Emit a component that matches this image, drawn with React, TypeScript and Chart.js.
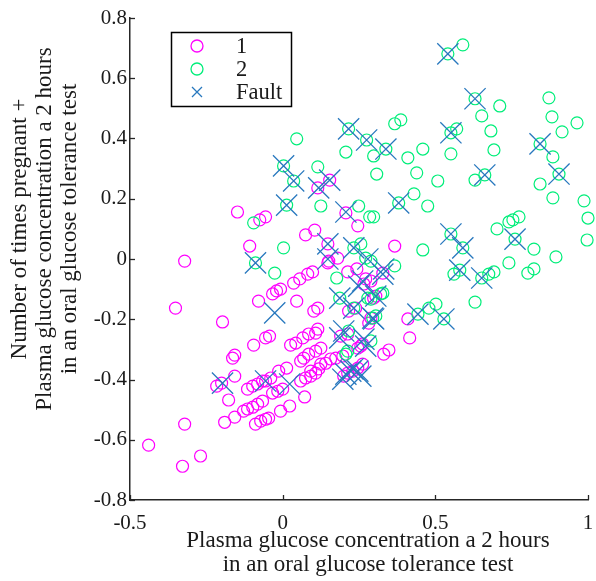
import React, { useEffect, useRef } from 'react';
import { Chart, registerables } from 'chart.js';

Chart.register(...registerables);

const seriesNames = ['1', '2', 'Fault'];
const xTickValues = [-0.5, 0, 0.5, 1];
const xTickLabels = ['-0.5', '0', '0.5', '1'];
const yTickValues = [-0.8, -0.6, -0.4, -0.2, 0, 0.2, 0.4, 0.6, 0.8];
const yTickLabels = ['-0.8', '-0.6', '-0.4', '-0.2', '0', '0.2', '0.4', '0.6', '0.8'];
const xTitleLines = ['Plasma glucose concentration a 2 hours', 'in an oral glucose tolerance test'];
const yTitleLines = [
  'Number of times pregnant +',
  'Plasma glucose concentration a 2 hours',
  'in an oral glucose tolerance test',
];

const class1: [number, number][] = [
  [-0.439, -0.618], [-0.328, -0.688], [-0.269, -0.654], [-0.321, -0.548], [-0.321, -0.007], [-0.351, -0.163], [-0.197, -0.209],
  [-0.148, 0.156], [-0.075, 0.130], [-0.056, 0.140], [0.075, 0.080], [0.105, 0.096], [-0.108, 0.043], [0.246, 0.110],
  [-0.079, -0.140], [-0.033, -0.116], [-0.020, -0.106], [-0.007, -0.100], [0.036, -0.080], [0.056, -0.066], [0.082, -0.050], [0.098, -0.043],
  [0.046, -0.140], [0.102, -0.173], [0.115, -0.163], [0.148, -0.013], [0.180, 0.003], [0.213, -0.043], [0.266, -0.083], [0.216, -0.173],
  [-0.095, -0.286], [-0.056, -0.262], [-0.043, -0.256], [-0.164, -0.329], [-0.157, -0.319], [-0.157, -0.389], [-0.216, -0.422], [-0.200, -0.412],
  [-0.177, -0.468], [-0.190, -0.542], [-0.157, -0.525],
  [-0.115, -0.432], [-0.098, -0.422], [-0.082, -0.415], [-0.066, -0.405], [-0.056, -0.405], [-0.039, -0.395], [-0.013, -0.372], [0.013, -0.362],
  [0.026, -0.286], [0.043, -0.279], [0.066, -0.262], [0.085, -0.249], [0.108, -0.246], [0.115, -0.233],
  [0.059, -0.339], [0.069, -0.329], [0.085, -0.316], [0.108, -0.306], [0.125, -0.296],
  [-0.033, -0.445], [-0.016, -0.439], [0.000, -0.432], [0.059, -0.405], [0.075, -0.395], [0.092, -0.389], [0.108, -0.379], [0.118, -0.365],
  [0.125, -0.349], [0.141, -0.346], [0.157, -0.332], [0.174, -0.329], [0.190, -0.256], [0.213, -0.249],
  [0.072, -0.458], [-0.128, -0.505], [-0.115, -0.498], [-0.098, -0.492], [-0.082, -0.482], [-0.066, -0.472],
  [-0.089, -0.548], [-0.072, -0.538], [-0.056, -0.532], [-0.046, -0.528], [-0.007, -0.505], [0.023, -0.488],
  [0.200, -0.389], [0.213, -0.379], [0.230, -0.372], [0.246, -0.362], [0.262, -0.349], [0.262, -0.282], [0.246, -0.296], [0.197, -0.322],
  [0.207, 0.153], [0.115, 0.236], [0.154, 0.262], [0.148, 0.050], [0.151, -0.007], [0.243, -0.033], [0.328, -0.047], [0.289, -0.073],
  [0.272, -0.066], [0.298, -0.130], [0.239, -0.163], [0.289, -0.196], [0.282, -0.213],
  [0.367, 0.043], [0.410, -0.199], [0.416, -0.262], [0.331, -0.316], [0.348, -0.302], [0.256, -0.289], [0.305, -0.123], [0.092, -0.372],
];

const class2: [number, number][] = [
  [-0.095, 0.120], [0.046, 0.399], [0.207, 0.355], [0.216, 0.432], [0.275, 0.395], [0.003, 0.309], [0.115, 0.306], [0.036, 0.259],
  [0.013, 0.179], [0.125, 0.176], [0.249, 0.176], [0.285, 0.140], [0.003, 0.037], [0.233, 0.037], [0.256, 0.050], [-0.089, -0.013],
  [-0.026, -0.047], [0.177, -0.063], [0.187, -0.130], [0.233, -0.163], [0.213, -0.306], [0.216, -0.239], [0.279, -0.130], [0.298, 0.342],
  [0.308, 0.282], [0.410, 0.336], [0.439, 0.286], [0.430, 0.216], [0.475, 0.176], [0.298, 0.140],
  [0.541, 0.681], [0.590, 0.711], [0.630, 0.532], [0.711, 0.508], [0.652, 0.475], [0.872, 0.535], [0.882, 0.472], [0.964, 0.452],
  [0.915, 0.422], [0.682, 0.425], [0.692, 0.362], [0.551, 0.419], [0.570, 0.432], [0.551, 0.349], [0.367, 0.449], [0.387, 0.462],
  [0.338, 0.365], [0.459, 0.365], [0.508, 0.259], [0.843, 0.382], [0.885, 0.339], [0.662, 0.279], [0.630, 0.262], [0.843, 0.249],
  [0.905, 0.282], [0.885, 0.203], [0.987, 0.193], [1.000, 0.136], [0.997, 0.063], [0.380, 0.186],
  [0.590, 0.037], [0.551, 0.083], [0.702, 0.100], [0.741, 0.123], [0.754, 0.130], [0.774, 0.140], [0.761, 0.066], [0.823, 0.033],
  [0.895, 0.007], [0.459, 0.030], [0.741, -0.013], [0.803, -0.047], [0.823, -0.033], [0.580, -0.037], [0.561, -0.050], [0.652, -0.063],
  [0.675, -0.050], [0.692, -0.043], [0.630, -0.143], [0.367, -0.023], [0.443, -0.183], [0.479, -0.163], [0.502, -0.150], [0.528, -0.199],
  [0.295, -0.196], [0.289, -0.272], [0.207, -0.316], [0.272, 0.003], [0.289, -0.007], [0.321, -0.116], [0.289, -0.133], [0.305, -0.189],
  [0.328, -0.113],
];

const fault: [number, number][] = [
  [-0.197, -0.412], [-0.089, -0.013], [-0.056, -0.405], [0.023, -0.415], [-0.026, -0.179], [0.003, 0.309], [0.036, 0.259], [0.013, 0.179],
  [0.118, 0.236], [0.154, 0.262], [0.207, 0.156], [0.148, 0.050], [0.233, 0.037], [0.216, 0.432], [0.275, 0.395], [0.338, 0.365],
  [0.380, 0.186], [0.541, 0.681], [0.630, 0.532], [0.551, 0.419], [0.843, 0.382], [0.662, 0.279], [0.905, 0.282], [0.551, 0.083],
  [0.590, 0.037], [0.761, 0.066], [0.580, -0.037], [0.652, -0.063], [0.443, -0.183], [0.528, -0.199], [0.295, -0.196], [0.148, 0.000],
  [0.279, 0.000], [0.331, -0.033], [0.262, -0.073], [0.249, -0.090], [0.187, -0.130], [0.233, -0.163], [0.298, -0.199], [0.200, -0.239],
  [0.272, -0.289], [0.223, -0.372], [0.207, -0.382], [0.197, -0.399], [0.246, -0.372], [0.187, -0.262], [0.266, -0.266], [0.305, -0.123],
  [0.328, -0.050], [0.256, -0.389], [0.230, -0.365],
];

const COLOR1 = '#FF00FF';
const COLOR2 = '#00EE7A';
const COLORF = '#2878BE';
const AXIS_COLOR = '#262626';
const TEXT_COLOR = '#1a1a1a';
const FONT_FAMILY = "'Liberation Serif', 'Times New Roman', serif";
const TICK_FONT_SIZE = 21;
const TITLE_FONT_SIZE = 23;
const LEGEND_FONT_SIZE = 22.5;

const toPoints = (arr: [number, number][]) => arr.map(([x, y]) => ({ x, y }));

const overlayPlugin = {
  id: 'overlay',
  afterDraw(chart: any) {
    const { ctx, chartArea, scales } = chart;
    const xs = scales.x;
    const ys = scales.y;
    ctx.save();
    // inward tick marks
    ctx.strokeStyle = AXIS_COLOR;
    ctx.lineWidth = 1.3;
    yTickValues.forEach((v) => {
      const py = Math.round(ys.getPixelForValue(v)) + 0.5;
      ctx.beginPath();
      ctx.moveTo(chartArea.left, py);
      ctx.lineTo(chartArea.left + 5, py);
      ctx.stroke();
    });
    xTickValues.forEach((v) => {
      const px = Math.round(xs.getPixelForValue(v)) + 0.5;
      ctx.beginPath();
      ctx.moveTo(px, chartArea.bottom);
      ctx.lineTo(px, chartArea.bottom - 5);
      ctx.stroke();
    });

    // axis titles
    ctx.fillStyle = TEXT_COLOR;
    ctx.font = `${TITLE_FONT_SIZE}px ${FONT_FAMILY}`;
    ctx.textAlign = 'center';
    ctx.textBaseline = 'middle';
    const xCenter = chartArea.left + 238;
    xTitleLines.forEach((line, i) => {
      ctx.fillText(line, xCenter, chartArea.bottom + 41 + i * 24);
    });
    ctx.save();
    ctx.translate(0, chartArea.top + 211);
    ctx.rotate(-Math.PI / 2);
    yTitleLines.forEach((line, i) => {
      ctx.fillText(line, 0, 20 + i * 25);
    });
    ctx.restore();

    // legend box
    const lx = chartArea.left + 41;
    const ly = chartArea.top + 14;
    const lw = 120;
    const lh = 74;
    ctx.fillStyle = '#ffffff';
    ctx.fillRect(lx, ly, lw, lh);
    ctx.strokeStyle = '#000000';
    ctx.lineWidth = 1.5;
    ctx.strokeRect(lx + 0.5, ly + 0.5, lw, lh);
    const colors = [COLOR1, COLOR2, COLORF];
    ctx.font = `${LEGEND_FONT_SIZE}px ${FONT_FAMILY}`;
    seriesNames.forEach((name, i) => {
      const cy = ly + 14 + i * 23;
      const mx = lx + 26;
      ctx.strokeStyle = colors[i];
      ctx.lineWidth = 1.3;
      ctx.beginPath();
      if (i < 2) {
        ctx.arc(mx, cy, 6, 0, Math.PI * 2);
      } else {
        ctx.moveTo(mx - 5, cy - 5);
        ctx.lineTo(mx + 5, cy + 5);
        ctx.moveTo(mx + 5, cy - 5);
        ctx.lineTo(mx - 5, cy + 5);
      }
      ctx.stroke();
      ctx.fillStyle = TEXT_COLOR;
      ctx.textAlign = 'left';
      ctx.textBaseline = 'middle';
      ctx.fillText(name, lx + 65, cy + 1);
    });
    ctx.restore();
  },
};

export default function App() {
  const canvasRef = useRef<HTMLCanvasElement | null>(null);

  useEffect(() => {
    document.body.style.margin = '0';
    const canvas = canvasRef.current;
    if (!canvas) return;
    const chart = new Chart(canvas, {
      type: 'scatter',
      data: {
        datasets: [
          {
            label: seriesNames[0],
            data: toPoints(class1),
            pointStyle: 'circle',
            pointRadius: 6,
            pointBorderWidth: 1.2,
            borderColor: COLOR1,
            backgroundColor: 'rgba(0,0,0,0)',
            clip: false,
            order: 2,
          },
          {
            label: seriesNames[1],
            data: toPoints(class2),
            pointStyle: 'circle',
            pointRadius: 6,
            pointBorderWidth: 1.2,
            borderColor: COLOR2,
            backgroundColor: 'rgba(0,0,0,0)',
            clip: false,
            order: 1,
          },
          {
            label: seriesNames[2],
            data: toPoints(fault),
            pointStyle: 'crossRot',
            pointRadius: 15,
            pointBorderWidth: 1.3,
            borderColor: COLORF,
            backgroundColor: COLORF,
            clip: false,
            order: 0,
          },
        ],
      },
      options: {
        responsive: false,
        animation: false,
        events: [],
        layout: { autoPadding: false, padding: { top: 18, right: 8, left: 0, bottom: 0 } },
        plugins: {
          legend: { display: false },
          title: { display: false },
          tooltip: { enabled: false },
        },
        scales: {
          x: {
            type: 'linear',
            min: -0.5,
            max: 1,
            afterBuildTicks: (scale: any) => {
              scale.ticks = xTickValues.map((v) => ({ value: v }));
            },
            afterFit: (scale: any) => {
              scale.height = 81;
              scale.paddingLeft = 0;
              scale.paddingRight = 0;
            },
            grid: { display: false, drawTicks: false },
            border: { display: true, color: AXIS_COLOR, width: 1.5 },
            ticks: {
              padding: 11,
              color: TEXT_COLOR,
              font: { family: FONT_FAMILY, size: TICK_FONT_SIZE },
              maxRotation: 0,
              autoSkip: false,
              callback: (value: any) => {
                const idx = xTickValues.findIndex((v) => Math.abs(v - value) < 1e-9);
                return idx >= 0 ? xTickLabels[idx] : '';
              },
            },
          },
          y: {
            type: 'linear',
            min: -0.8,
            max: 0.8,
            afterBuildTicks: (scale: any) => {
              scale.ticks = yTickValues.map((v) => ({ value: v }));
            },
            afterFit: (scale: any) => {
              scale.width = 130;
              scale.paddingTop = 0;
              scale.paddingBottom = 0;
            },
            grid: { display: false, drawTicks: false },
            border: { display: true, color: AXIS_COLOR, width: 1.5 },
            ticks: {
              padding: 3,
              color: TEXT_COLOR,
              font: { family: FONT_FAMILY, size: TICK_FONT_SIZE },
              autoSkip: false,
              callback: (value: any) => {
                const idx = yTickValues.findIndex((v) => Math.abs(v - value) < 1e-9);
                return idx >= 0 ? yTickLabels[idx] : '';
              },
            },
          },
        },
      },
      plugins: [overlayPlugin],
    });
    return () => chart.destroy();
  }, []);

  return (
    <div style={{ width: 596, height: 581, background: '#ffffff' }}>
      <canvas ref={canvasRef} width={596} height={581} style={{ display: 'block' }} />
    </div>
  );
}
